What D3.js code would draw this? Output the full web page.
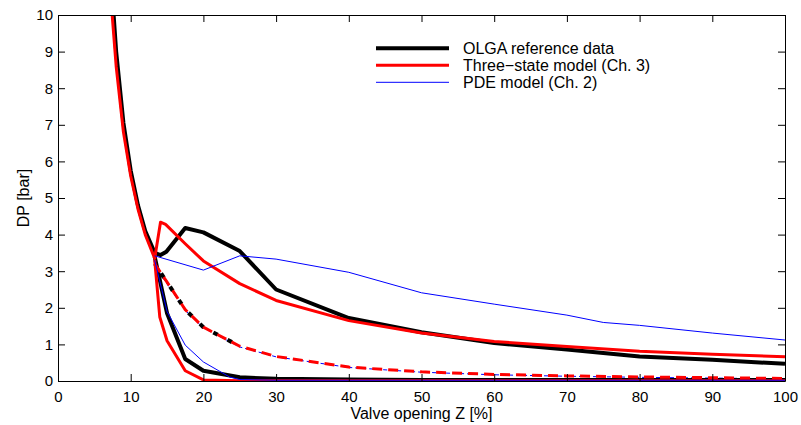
<!DOCTYPE html>
<html>
<head>
<meta charset="utf-8">
<script src="https://cdn.jsdelivr.net/npm/d3@7"></script>
<style>
  body { margin: 0; background: #fff; }
  svg { font-family: "Liberation Sans", Arial, sans-serif; }
  .tick text { font-size: 15px; fill: #000; }
</style>
</head>
<body>
<svg id="chart" width="801" height="425"></svg>
<script>
// OLGA reference data (black)
var olgaUpZ   = [7.65, 8, 9, 10, 11, 12, 13.3, 14.1, 14.9, 17.5, 20, 25, 30, 40, 50, 60, 70, 80, 90, 100];
var olgaUpDP  = [10, 9.0, 7.05, 5.75, 4.8, 4.1, 3.5, 3.44, 3.53, 4.18, 4.06, 3.55, 2.5, 1.72, 1.33, 1.04, 0.86, 0.67, 0.58, 0.47];
var olgaLoZ   = [13.3, 15, 17.5, 20, 25, 30, 40, 50, 60, 70, 80, 90, 100];
var olgaLoDP  = [3.4, 1.85, 0.6, 0.28, 0.1, 0.06, 0.04, 0.03, 0.03, 0.03, 0.03, 0.03, 0.03];
var olgaDashZ  = [13.3, 15, 17.5, 20, 25];
var olgaDashDP = [3.2, 2.7, 1.95, 1.47, 0.95];

// Three-state model (red)
var tsUpZ   = [7.45, 8, 9, 10, 11, 12, 13.3, 14.1, 14.8, 17.5, 20, 25, 30, 40, 50, 60, 70, 80, 90, 100];
var tsUpDP  = [10, 8.6, 6.8, 5.6, 4.7, 4.0, 3.35, 4.34, 4.28, 3.75, 3.28, 2.66, 2.2, 1.65, 1.31, 1.08, 0.94, 0.81, 0.73, 0.66];
var tsLoZ   = [13.3, 14, 15, 17.5, 20, 25, 30, 40, 50, 60, 70, 80, 90, 100];
var tsLoDP  = [3.3, 1.75, 1.1, 0.28, 0.03, 0.01, 0.01, 0.01, 0.01, 0.01, 0.01, 0.01, 0.01, 0.01];
var tsDashZ  = [13.3, 15, 17.5, 20, 25, 30, 40, 50, 60, 70, 80, 90, 100];
var tsDashDP = [3.2, 2.7, 1.95, 1.47, 0.95, 0.67, 0.38, 0.25, 0.18, 0.14, 0.11, 0.09, 0.07];

// PDE model (blue)
var pdeUpZ   = [13.3, 20, 25, 30, 40, 50, 60, 70, 75, 80, 90, 100];
var pdeUpDP  = [3.42, 3.03, 3.42, 3.33, 2.97, 2.41, 2.1, 1.8, 1.6, 1.52, 1.31, 1.12];
var pdeLoZ   = [13.3, 15, 17.5, 20, 23.6, 25, 30, 40, 50, 60, 70, 80, 90, 100];
var pdeLoDP  = [3.3, 1.9, 0.98, 0.52, 0.11, 0.04, 0.02, 0.02, 0.02, 0.02, 0.02, 0.02, 0.02, 0.02];
var pdeDashZ  = [13.3, 15, 17.5, 20, 25, 30, 40, 50, 60, 70, 80, 90, 100];
var pdeDashDP = [3.15, 2.65, 1.93, 1.45, 0.93, 0.66, 0.37, 0.24, 0.17, 0.13, 0.1, 0.08, 0.06];

var xTicks = [0, 10, 20, 30, 40, 50, 60, 70, 80, 90, 100];
var yTicks = [0, 1, 2, 3, 4, 5, 6, 7, 8, 9, 10];
var legendNames = ["OLGA reference data", "Three\u2212state model (Ch. 3)", "PDE model (Ch. 2)"];

var margin = {top: 15, right: 16, bottom: 44, left: 58},
    width = 801 - margin.left - margin.right,
    height = 425 - margin.top - margin.bottom;

var svg = d3.select("#chart")
  .append("g")
  .attr("transform", "translate(" + margin.left + "," + margin.top + ")");

var x = d3.scaleLinear().domain([0, 100]).range([0, width]);
var y = d3.scaleLinear().domain([0, 10]).range([height, 0]);

svg.append("clipPath").attr("id", "clip")
  .append("rect").attr("width", width).attr("height", height);

function pairs(zs, ds) {
  return zs.map(function(z, i) { return [z, ds[i]]; });
}

var line = d3.line()
  .x(function(d) { return x(d[0]); })
  .y(function(d) { return y(d[1]); });

// dashed black sits in the gaps of the dashed red, blue shows in between
var series = [
  {data: pairs(pdeDashZ, pdeDashDP), color: "#00f", w: 1, dash: "4,3", off: 0},
  {data: pairs(olgaDashZ, olgaDashDP), color: "#000", w: 4, dash: "5,11", off: -11.5},
  {data: pairs(olgaUpZ, olgaUpDP), color: "#000", w: 4, dash: null, off: 0},
  {data: pairs(olgaLoZ, olgaLoDP), color: "#000", w: 4, dash: null, off: 0},
  {data: pairs(tsDashZ, tsDashDP), color: "#f00", w: 3, dash: "10,6", off: 0},
  {data: pairs(tsUpZ, tsUpDP), color: "#f00", w: 3, dash: null, off: 0},
  {data: pairs(tsLoZ, tsLoDP), color: "#f00", w: 3, dash: null, off: 0},
  {data: pairs(pdeUpZ, pdeUpDP), color: "#00f", w: 1, dash: null, off: 0},
  {data: pairs(pdeLoZ, pdeLoDP), color: "#00f", w: 1, dash: null, off: 0}
];

var plot = svg.append("g").attr("clip-path", "url(#clip)");
plot.selectAll(".series")
  .data(series)
  .enter()
  .append("path")
  .attr("class", "series")
  .attr("fill", "none")
  .attr("stroke", function(d) { return d.color; })
  .attr("stroke-width", function(d) { return d.w; })
  .attr("stroke-dasharray", function(d) { return d.dash; })
  .attr("stroke-dashoffset", function(d) { return d.off; })
  .attr("stroke-linejoin", "round")
  .attr("d", function(d) { return line(d.data); });

// axes, matlab style ticks pointing inwards
svg.append("g")
  .attr("transform", "translate(0," + height + ")")
  .call(d3.axisBottom(x).tickValues(xTicks).tickSizeInner(-7).tickSizeOuter(0).tickPadding(10));
svg.append("g")
  .call(d3.axisLeft(y).tickValues(yTicks).tickSizeInner(-7).tickSizeOuter(0).tickPadding(5));
svg.append("g")
  .call(d3.axisTop(x).tickValues(xTicks).tickSizeInner(-7).tickSizeOuter(0).tickFormat(""));
svg.append("g")
  .attr("transform", "translate(" + width + ",0)")
  .call(d3.axisRight(y).tickValues(yTicks).tickSizeInner(-7).tickSizeOuter(0).tickFormat(""));

svg.selectAll(".domain").attr("stroke", "#000").attr("stroke-width", 1);
svg.selectAll(".tick line").attr("stroke", "#000");

svg.append("text")
  .attr("x", width / 2)
  .attr("y", height + 37.5)
  .attr("text-anchor", "middle")
  .style("font-size", "16px")
  .text("Valve opening Z [%]");

svg.append("text")
  .attr("transform", "rotate(-90)")
  .attr("x", -height / 2)
  .attr("y", -29)
  .attr("text-anchor", "middle")
  .style("font-size", "16px")
  .text("DP [bar]");

// legend
var legColors = ["#000", "#f00", "#00f"], legW = [4, 3, 1];
var leg = svg.append("g").attr("transform", "translate(318,33.3)");
leg.selectAll(".leg")
  .data(legendNames)
  .enter()
  .append("g")
  .attr("transform", function(d, i) { return "translate(0," + (i * 17) + ")"; })
  .each(function(d, i) {
    var g = d3.select(this);
    g.append("line").attr("x1", 0).attr("x2", 73).attr("y1", 0).attr("y2", 0)
      .attr("stroke", legColors[i]).attr("stroke-width", legW[i]);
    g.append("text").attr("x", 87).attr("dy", "0.35em")
      .style("font-size", "16px").text(d);
  });
</script>
</body>
</html>
